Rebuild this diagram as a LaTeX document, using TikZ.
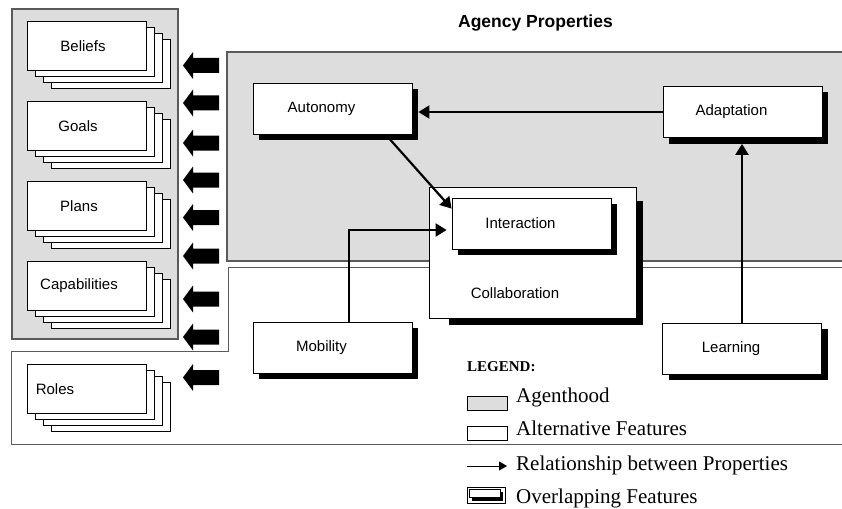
\documentclass[tikz,border=0pt]{standalone}
\usepackage{fontspec}
\setmainfont{Liberation Serif}
\newfontfamily\arial{Liberation Sans}
\usetikzlibrary{arrows.meta,shadows}
\definecolor{agentgrey}{HTML}{DDDDDD}
\definecolor{panelline}{HTML}{5A5A5A}
\tikzset{
  panel/.style={draw=panelline, line width=1.2pt},
  card/.style={draw=black, fill=white, line width=0.8pt, minimum width=119pt,
    minimum height=49pt, inner sep=0pt},
  lbl/.style={font=\arial\fontsize{15}{18}\selectfont, inner sep=0pt},
  feature/.style={draw=black, fill=white, line width=0.8pt, minimum width=159pt,
    minimum height=51pt, inner sep=0pt, font=\arial\fontsize{15}{18}\selectfont,
    execute at begin node={\hspace*{-22pt}},
    drop shadow={shadow xshift=6pt, shadow yshift=-6pt, opacity=1, fill=black}},
  rel/.style={line width=2.2pt, -{Triangle[length=11pt,width=13pt]}},
  legtext/.style={font=\fontsize{21}{24}\selectfont, anchor=base west, inner sep=0pt},
  legbox/.style={draw=black, line width=0.6pt, minimum width=40pt, minimum height=14pt,
    inner sep=0pt, anchor=north west},
}
\begin{document}
\begin{tikzpicture}[x=1pt, y=-1pt]
\useasboundingbox (0,0) rectangle (842,508);

% regions
\filldraw[panel, fill=agentgrey] (12,9) rectangle (178,339);
\filldraw[panel, fill=agentgrey] (227,52) rectangle (860,261);
\draw[panel, line width=1pt] (860,267) -- (228,267) -- (228,351) -- (11,351)
  -- (11,444) -- (860,444);

% stacked agent elements
\foreach \nm/\cy in {beliefs/45.5, goals/125.5, plans/205.5, capab/285.5, roles/388.5}{
  \foreach \k in {3,2,1}
    \node[card] (\nm-\k) at ({86.5+8*\k},{\cy+6*\k}) {};
  \node[card] (\nm) at (86.5,\cy) {};
}
\node[lbl] (beliefs-t) at ([shift={(-3.5,0.5)}]beliefs.center) {Beliefs};
\node[lbl] (goals-t) at ([shift={(-8.5,0.5)}]goals.center) {Goals};
\node[lbl] (plans-t) at ([shift={(-7.5,0.5)}]plans.center) {Plans};
\node[lbl] (capab-t) at ([shift={(-7.5,0.5)}]capab.center) {Capabilities};
\node[lbl, anchor=west] (roles-t) at ([shift={(9,0.5)}]roles.west) {Roles};

% block arrows
\foreach \y in {65.5,103,143,180,217.5,256,299,337,377.5}
  \fill (183,\y) -- (193,{\y-13.5}) -- (193,{\y-7.5}) -- (219,{\y-7.5})
    -- (219,{\y+7.5}) -- (193,{\y+7.5}) -- (193,{\y+13.5}) -- cycle;

% title
\node[font=\arial\bfseries\fontsize{17.5}{20}\selectfont, inner sep=0pt, anchor=east]
  (title) at (613,23) {Agency Properties};

% agency properties
\node[feature] (auto) at (332.5,108.5) {Autonomy};
\node[feature] (adapt) at (742.5,112) {Adaptation};
\node[feature] (mob) at (332.5,347.5) {Mobility};
\node[feature] (learn) at (742,348.5) {Learning};

\fill (449,201) rectangle (643,325);
\node[draw=black, fill=white, line width=0.8pt, minimum width=207pt,
  minimum height=131pt, inner sep=0pt] (collab) at (532.5,252.5) {};
\node[lbl] (collab-t) at (515,293) {Collaboration};
\node[feature] (inter) at (531.5,223.5) {Interaction};

% relationships
\draw[rel] (adapt.west) -- ([shift={(6,0)}]adapt.west -| auto.east);
\draw[rel] (learn.north) -- ([shift={(0,6)}]learn.north |- adapt.south);
\draw[rel] ([shift={(57.5,5)}]auto.south) -- ([shift={(0,11)}]inter.north west);
\draw[rel] ([shift={(16.5,0)}]mob.north) |- ([shift={(-5,6.5)}]inter.west);

% legend
\node[font=\bfseries\fontsize{15}{18}\selectfont, anchor=base west, inner sep=0pt]
  (legend) at (467,371) {LEGEND:};
\node[legbox, fill=agentgrey] (kgrey) at (467,396) {};
\node[legtext] (tgrey) at (516,402) {Agenthood};
\node[legbox, fill=white] (kwhite) at (467,426) {};
\node[legtext] (twhite) at (516,435) {Alternative Features};
\coordinate (ka) at (467,466);
\coordinate (kb) at (507,466);
\draw[line width=0.8pt, -{Triangle[length=8pt,width=9pt]}] (ka) -- (kb);
\node[legtext] (trel) at (516,470) {Relationship between Properties};
\node[legbox, minimum width=38pt, minimum height=16pt] (kover) at (467,487) {};
\fill (472,492) rectangle (503,501);
\node[draw=black, fill=white, line width=0.6pt, minimum width=31pt, minimum height=8pt,
  inner sep=0pt, anchor=north west] (kover-in) at (469,489) {};
\node[legtext] (tover) at (516,503) {Overlapping Features};
\end{tikzpicture}
\end{document}
